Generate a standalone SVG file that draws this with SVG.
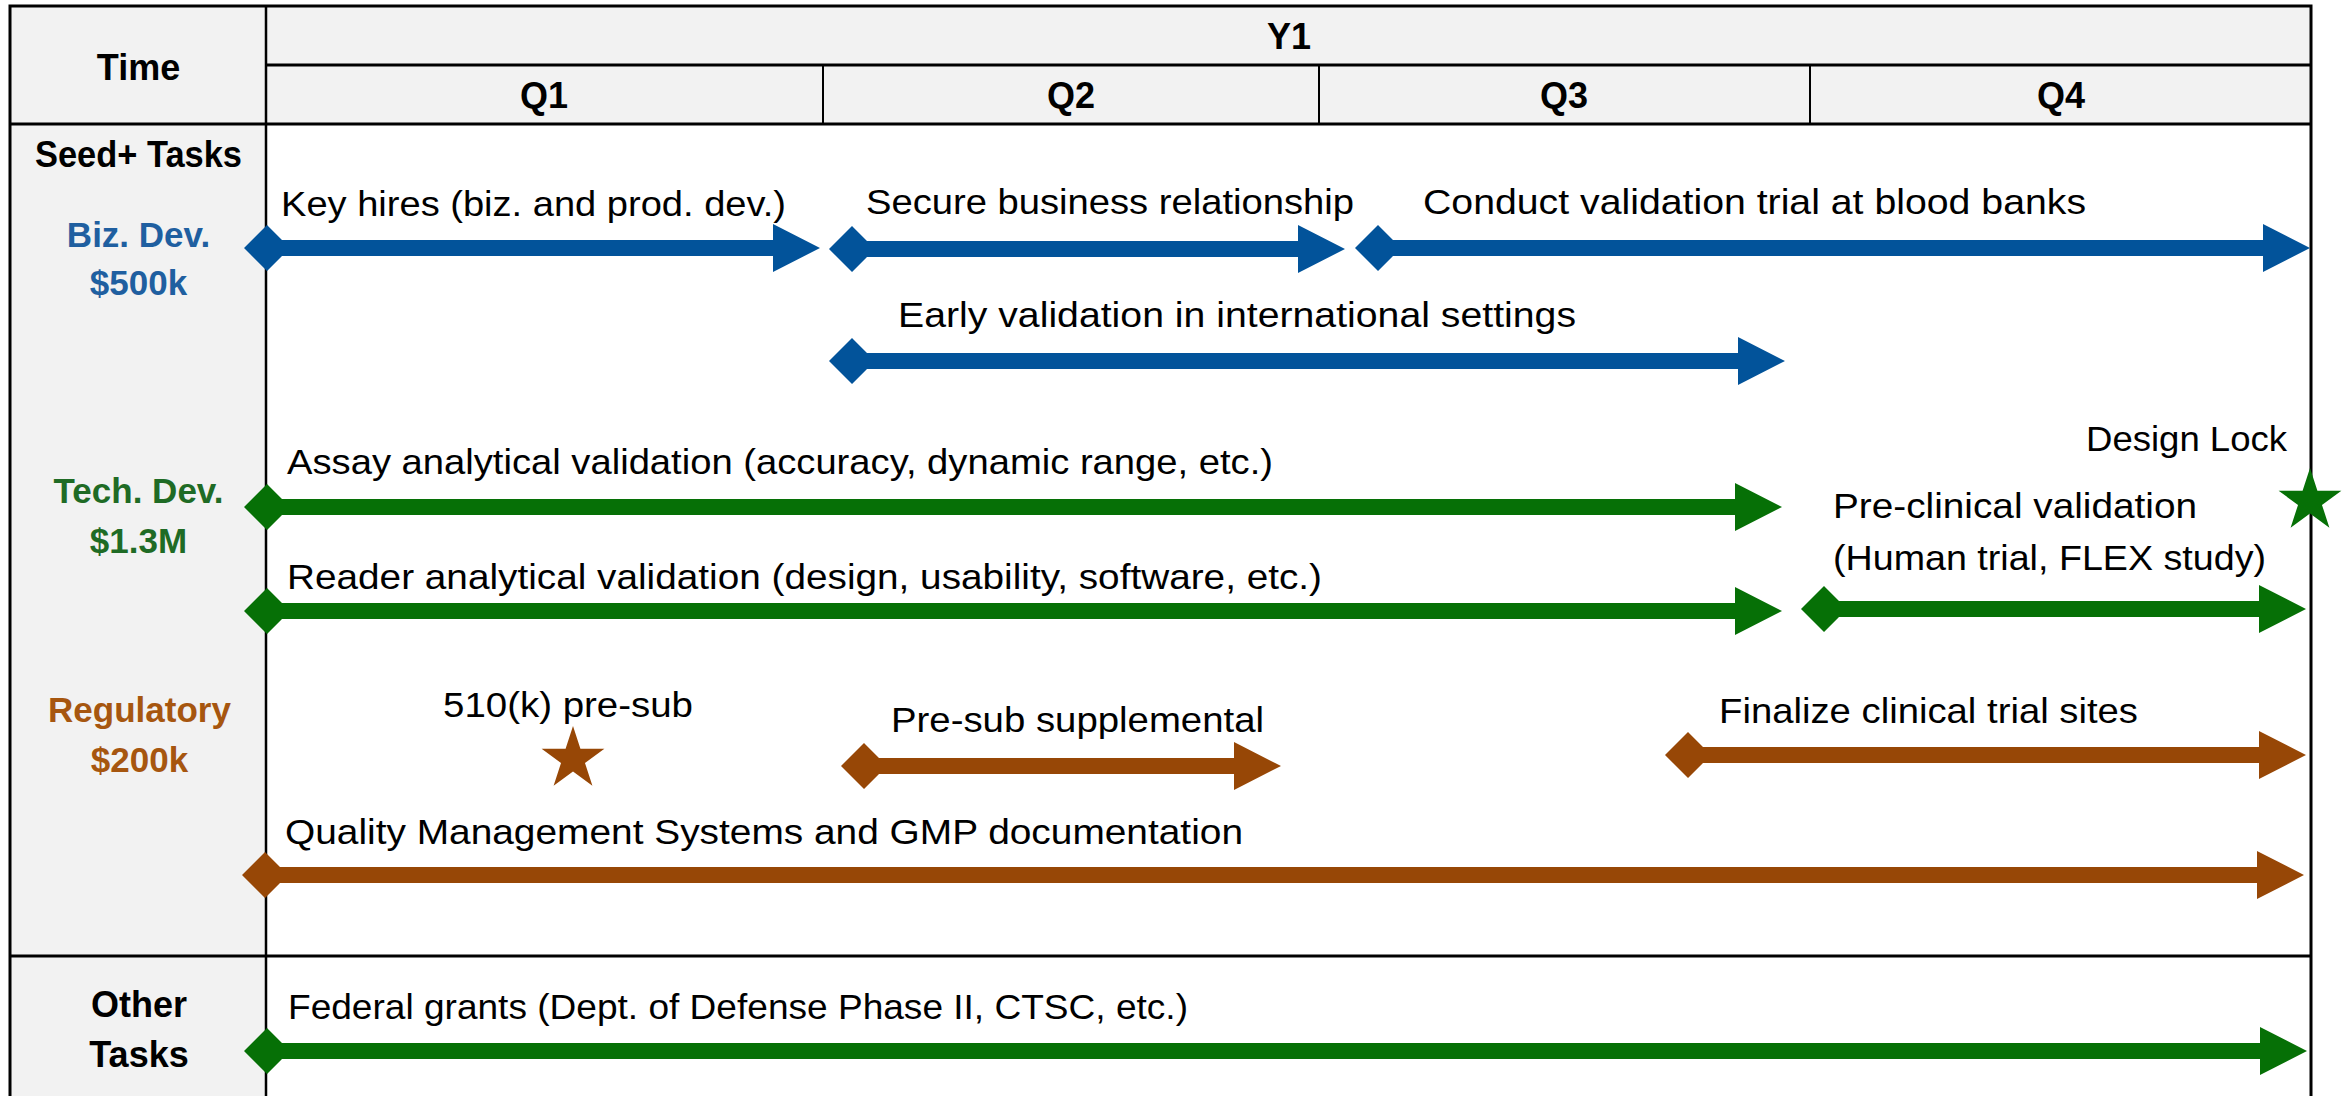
<svg xmlns="http://www.w3.org/2000/svg" width="2346" height="1096" viewBox="0 0 2346 1096">
<style>
.bg{fill:#ffffff}
.gray{fill:#f2f2f2}
.ln{stroke:#000;fill:none}
.t{font-family:"Liberation Sans",Arial,sans-serif;font-size:35px;fill:#000}
.h{font-family:"Liberation Sans",Arial,sans-serif;font-size:36px;font-weight:bold;fill:#000;text-anchor:middle}
.c{font-family:"Liberation Sans",Arial,sans-serif;font-size:35px;font-weight:bold;text-anchor:middle}
.blueT{fill:#1F5FA0}
.greenT{fill:#1F6B25}
.brownT{fill:#A6560F}
.blue{fill:#02539A}
.green{fill:#067006}
.brown{fill:#974706}
</style>
<defs>
<polygon id="star" points="0,-33 7.41,-10.19 31.39,-10.2 11.98,3.89 19.4,26.7 0,12.6 -19.4,26.7 -11.98,3.89 -31.39,-10.2 -7.41,-10.19"/>
</defs>
<rect class="bg" x="0" y="0" width="2346" height="1096"/>
<g id="grid">
<rect class="gray" x="10" y="6" width="256" height="1090"/>
<rect class="gray" x="266" y="6" width="2045" height="118"/>
<path class="ln" stroke-width="3" d="M10,1096 V6 H2311 V1096"/>
<path class="ln" stroke-width="2.5" d="M266,6 V1096"/>
<path class="ln" stroke-width="3" d="M266,65 H2311 M10,124 H2311 M10,956 H2311"/>
<path class="ln" stroke-width="2" d="M823,65 V124 M1319,65 V124 M1810,65 V124"/>
</g>
<g id="header">
<text class="h" x="138.5" y="80" font-size="37">Time</text>
<text class="h" x="1289" y="49">Y1</text>
<text class="h" x="544" y="108">Q1</text>
<text class="h" x="1071" y="108">Q2</text>
<text class="h" x="1564" y="108">Q3</text>
<text class="h" x="2061" y="108">Q4</text>
</g>
<g id="row-labels">
<text class="h" x="138.5" y="167" textLength="207" lengthAdjust="spacingAndGlyphs">Seed+ Tasks</text>
<text class="c blueT" x="138.5" y="247">Biz. Dev.</text>
<text class="c blueT" x="138.5" y="295">$500k</text>
<text class="c greenT" x="138.5" y="503">Tech. Dev.</text>
<text class="c greenT" x="138.5" y="553">$1.3M</text>
<text class="c brownT" x="139.5" y="722">Regulatory</text>
<text class="c brownT" x="139.5" y="772">$200k</text>
<text class="h" x="139" y="1017" font-size="37">Other</text>
<text class="h" x="139" y="1067" font-size="37">Tasks</text>
</g>
<g id="task-key-hires"><text class="t" x="281" y="216" textLength="505" lengthAdjust="spacingAndGlyphs">Key hires (biz. and prod. dev.)</text></g>
<g id="task-secure"><text class="t" x="866" y="214" textLength="488" lengthAdjust="spacingAndGlyphs">Secure business relationship</text></g>
<g id="task-conduct"><text class="t" x="1423" y="214" textLength="663" lengthAdjust="spacingAndGlyphs">Conduct validation trial at blood banks</text></g>
<g id="task-early"><text class="t" x="898" y="327" textLength="678" lengthAdjust="spacingAndGlyphs">Early validation in international settings</text></g>
<g id="task-assay"><text class="t" x="287" y="474" textLength="986" lengthAdjust="spacingAndGlyphs">Assay analytical validation (accuracy, dynamic range, etc.)</text></g>
<g id="task-reader"><text class="t" x="287" y="589" textLength="1035" lengthAdjust="spacingAndGlyphs">Reader analytical validation (design, usability, software, etc.)</text></g>
<g id="milestone-design-lock">
<text class="t" x="2086" y="451" textLength="201" lengthAdjust="spacingAndGlyphs">Design Lock</text>
<use href="#star" class="green" transform="translate(2310,501)"/>
</g>
<g id="task-preclinical">
<text class="t" x="1833" y="518" textLength="364" lengthAdjust="spacingAndGlyphs">Pre-clinical validation</text>
<text class="t" x="1833" y="570" textLength="433" lengthAdjust="spacingAndGlyphs">(Human trial, FLEX study)</text>
</g>
<g id="milestone-presub">
<text class="t" x="443" y="717" textLength="250" lengthAdjust="spacingAndGlyphs">510(k) pre-sub</text>
<use href="#star" class="brown" transform="translate(573,759)"/>
</g>
<g id="task-presub-supp"><text class="t" x="891" y="732" textLength="373" lengthAdjust="spacingAndGlyphs">Pre-sub supplemental</text></g>
<g id="task-finalize"><text class="t" x="1719" y="723" textLength="419" lengthAdjust="spacingAndGlyphs">Finalize clinical trial sites</text></g>
<g id="task-qms"><text class="t" x="285" y="844" textLength="958" lengthAdjust="spacingAndGlyphs">Quality Management Systems and GMP documentation</text></g>
<g id="task-federal"><text class="t" x="288" y="1019" textLength="900" lengthAdjust="spacingAndGlyphs">Federal grants (Dept. of Defense Phase II, CTSC, etc.)</text></g>
<g id="connectors">
<path class="blue" d="M244,248 L267,225 L282,240 L773,240 L773,224 L820,248 L773,272 L773,256 L282,256 L267,271 Z"/>
<path class="blue" d="M829,249 L852,226 L867,241 L1298,241 L1298,225 L1345,249 L1298,273 L1298,257 L867,257 L852,272 Z"/>
<path class="blue" d="M1355,248 L1378,225 L1393,240 L2263,240 L2263,224 L2310,248 L2263,272 L2263,256 L1393,256 L1378,271 Z"/>
<path class="blue" d="M829,361 L852,338 L867,353 L1738,353 L1738,337 L1785,361 L1738,385 L1738,369 L867,369 L852,384 Z"/>
<path class="green" d="M244,507 L267,484 L282,499 L1735,499 L1735,483 L1782,507 L1735,531 L1735,515 L282,515 L267,530 Z"/>
<path class="green" d="M244,611 L267,588 L282,603 L1735,603 L1735,587 L1782,611 L1735,635 L1735,619 L282,619 L267,634 Z"/>
<path class="green" d="M1801,609 L1824,586 L1839,601 L2259,601 L2259,585 L2306,609 L2259,633 L2259,617 L1839,617 L1824,632 Z"/>
<path class="brown" d="M841,766 L864,743 L879,758 L1234,758 L1234,742 L1281,766 L1234,790 L1234,774 L879,774 L864,789 Z"/>
<path class="brown" d="M1665,755 L1688,732 L1703,747 L2259,747 L2259,731 L2306,755 L2259,779 L2259,763 L1703,763 L1688,778 Z"/>
<path class="brown" d="M242,875 L265,852 L280,867 L2257,867 L2257,851 L2304,875 L2257,899 L2257,883 L280,883 L265,898 Z"/>
<path class="green" d="M244,1051 L267,1028 L282,1043 L2260,1043 L2260,1027 L2307,1051 L2260,1075 L2260,1059 L282,1059 L267,1074 Z"/>
</g>
</svg>
